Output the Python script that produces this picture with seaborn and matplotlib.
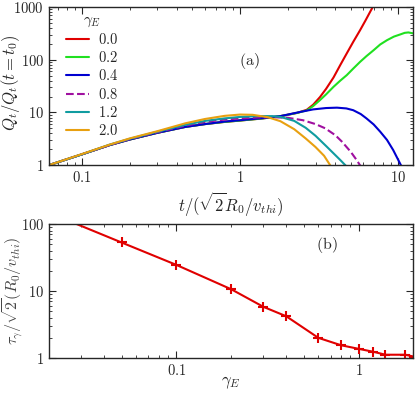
import seaborn as sns
import matplotlib.pyplot as plt
import matplotlib.ticker as ticker

# ---- panel (a): Q_t/Q_t(t=t0) vs t for several gamma_E ----
gamma_labels = ["0.0", "0.2", "0.4", "0.8", "1.2", "2.0"]
colors = ["#e00000", "#20e020", "#0000d0", "#a010a0", "#109ca0", "#e8a010"]

t_00 = [0.062, 0.1, 0.15, 0.2, 0.3, 0.45, 0.6, 0.8, 1.0, 1.4, 1.8, 2.0, 2.3, 2.64, 2.9, 3.2, 3.5,
        3.9, 4.3, 4.73, 5.2, 5.74, 6.2, 6.65, 7.2]
q_00 = [1.0, 1.6, 2.4, 3.05, 4.1, 5.3, 6.0, 6.6, 7.0, 7.7, 8.5, 9.0, 9.8, 11.2, 14.0, 19.5, 28,
        46, 79, 132, 219, 363, 550, 813, 1260]

t_02 = [0.062, 0.1, 0.15, 0.2, 0.3, 0.45, 0.6, 0.8, 1.0, 1.4, 1.8, 2.0, 2.3, 2.64, 2.9, 3.2, 3.5,
        3.9, 4.3, 4.73, 5.2, 5.74, 6.3, 7.0, 7.7, 8.5, 9.4, 10.3, 11.0, 11.6, 12.5]
q_02 = [1.0, 1.6, 2.4, 3.05, 4.1, 5.3, 6.0, 6.6, 7.0, 7.7, 8.5, 9.0, 9.8, 10.9, 13.2, 17.1, 22,
        30.6, 40, 51, 68, 91, 117, 152, 195, 235, 275, 302, 324, 330, 316]

t_04 = [0.062, 0.1, 0.15, 0.2, 0.3, 0.45, 0.6, 0.8, 1.0, 1.4, 1.8, 2.4, 2.9, 3.5, 4.1, 4.7, 5.2,
        5.8, 6.3, 7.0, 7.7, 8.5, 9.3, 10.4, 11.0]
q_04 = [1.0, 1.6, 2.4, 3.05, 4.1, 5.3, 6.0, 6.7, 7.1, 7.8, 8.5, 10.2, 11.4, 12.1, 12.3, 11.9, 11.0,
        9.3, 7.7, 5.9, 4.3, 3.0, 1.93, 1.0, 0.7]

t_08 = [0.062, 0.1, 0.15, 0.2, 0.3, 0.45, 0.6, 0.8, 1.0, 1.3, 1.6, 2.0, 2.5, 3.0, 3.45, 4.0, 4.4,
        5.0, 5.47, 6.0]
q_08 = [1.0, 1.6, 2.4, 3.1, 4.2, 5.6, 6.6, 7.3, 7.7, 8.0, 8.1, 7.9, 7.1, 6.0, 5.0, 3.7, 2.8,
        1.8, 1.24, 0.8]

t_12 = [0.062, 0.1, 0.15, 0.2, 0.3, 0.45, 0.6, 0.8, 1.0, 1.3, 1.6, 1.8, 2.2, 2.6, 3.0, 3.5, 3.9,
        4.3, 4.7]
q_12 = [1.0, 1.6, 2.45, 3.15, 4.3, 5.8, 6.9, 7.7, 8.2, 8.5, 8.5, 8.2, 6.9, 5.1, 3.6, 2.3, 1.67,
        1.25, 0.95]

t_20 = [0.062, 0.1, 0.15, 0.2, 0.3, 0.45, 0.6, 0.8, 1.0, 1.2, 1.5, 1.8, 2.2, 2.6, 3.0, 3.4, 3.75]
q_20 = [1.0, 1.62, 2.45, 3.2, 4.4, 6.2, 7.5, 8.6, 9.1, 9.0, 8.1, 6.8, 4.8, 3.2, 2.2, 1.5, 0.95]

t_series = [t_00, t_02, t_04, t_08, t_12, t_20]
q_series = [q_00, q_02, q_04, q_08, q_12, q_20]

# ---- panel (b): tau_gamma vs gamma_E ----
gamma_e = [0.025, 0.05, 0.1, 0.2, 0.3, 0.4, 0.6, 0.8, 1.0, 1.2, 1.4, 1.8, 2.0]
tau = [115, 53, 24.5, 10.6, 5.8, 4.2, 2.0, 1.55, 1.37, 1.24, 1.12, 1.12, 1.05]

sns.set_style("ticks")
plt.rcParams.update({
    "font.family": ["DejaVu Serif"],
    "mathtext.fontset": "cm",
    "font.size": 10.5,
    "axes.labelsize": 12,
    "xtick.direction": "in",
    "ytick.direction": "in",
    "xtick.major.size": 5,
    "ytick.major.size": 5,
    "xtick.minor.size": 2.5,
    "ytick.minor.size": 2.5,
    "axes.linewidth": 1.0,
})

fig = plt.figure(figsize=(4.15, 3.93), dpi=100)
ax1 = fig.add_axes([0.118, 0.580, 0.877, 0.402])
ax2 = fig.add_axes([0.118, 0.089, 0.877, 0.341])

for t, q, lab, c in zip(t_series, q_series, gamma_labels, colors):
    if lab == "0.8":
        sns.lineplot(x=t, y=q, ax=ax1, color=c, lw=1.5, label=f"${lab}$",
                     linestyle="--", dashes=(5, 7), estimator=None)
    else:
        sns.lineplot(x=t, y=q, ax=ax1, color=c, lw=1.5, label=f"${lab}$", estimator=None)

ax1.set_xscale("log")
ax1.set_yscale("log")
ax1.set_xlim(0.0618, 12.4)
ax1.set_ylim(1, 1000)
ax1.set_xlabel(r"$t/(\sqrt{2}R_0/v_{thi})$", labelpad=4)
ax1.set_ylabel(r"$Q_t/Q_t(t=t_0)$")
ax1.yaxis.set_label_coords(-0.075, 0.52)
ax1.text(0.55, 0.66, r"$\mathrm{(a)}$", transform=ax1.transAxes, ha="center", va="center",
         fontsize=11.5)
leg = ax1.legend(title=r"$\gamma_E$", loc="upper left", frameon=False,
                 handlelength=1.6, labelspacing=0.22, handletextpad=0.6,
                 borderaxespad=0.0, borderpad=0.0, bbox_to_anchor=(0.047, 0.965),
                 title_fontsize=11)
leg._legend_box.align = "center"

sns.lineplot(x=gamma_e, y=tau, ax=ax2, color="#e00000", lw=1.5, marker="+",
             markersize=7, markeredgewidth=1.5, markeredgecolor="#e00000", estimator=None)
ax2.set_xscale("log")
ax2.set_yscale("log")
ax2.set_xlim(0.02, 1.98)
ax2.set_ylim(1, 100)
ax2.set_xlabel(r"$\gamma_E$", labelpad=-3)
ax2.set_ylabel(r"$\tau_\gamma/\sqrt{2}(R_0/v_{thi})$", color="#444444", fontsize=11.5)
ax2.yaxis.set_label_coords(-0.066, 0.5)
ax2.text(0.763, 0.843, r"$\mathrm{(b)}$", transform=ax2.transAxes, ha="center", va="center",
         fontsize=11.5)

fmt = ticker.FuncFormatter(lambda v, p: f"${v:g}$")
for ax in (ax1, ax2):
    ax.xaxis.set_major_formatter(fmt)
    ax.yaxis.set_major_formatter(fmt)
    ax.xaxis.set_minor_formatter(ticker.NullFormatter())
    ax.yaxis.set_minor_formatter(ticker.NullFormatter())
    ax.tick_params(which="both", top=True, right=True, direction="in")

plt.savefig("out.png", dpi=100)
plt.close()
